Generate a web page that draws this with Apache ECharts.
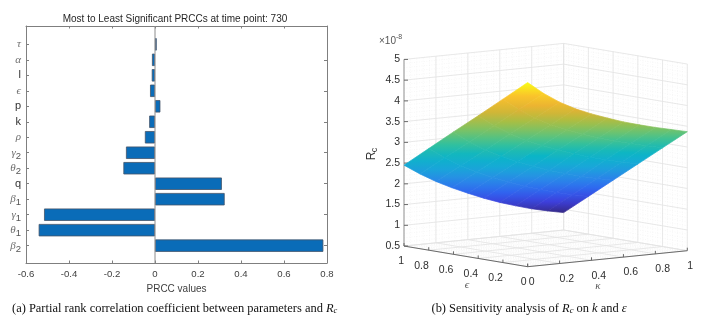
<!DOCTYPE html>
<html>
<head>
<meta charset="utf-8">
<title>PRCC and sensitivity analysis</title>
<script src="https://cdn.jsdelivr.net/npm/echarts@6/dist/echarts.min.js"></script>
<style>
html, body { margin: 0; padding: 0; background: #fff; }
#main { width: 704px; height: 321px; }
</style>
</head>
<body>
<div id="main"></div>
<script>
// left panel, bottom to top
const paramNames = ['β_2', 'θ_1', 'γ_1', 'β_1', 'q', 'θ_2', 'γ_2', 'ρ', 'k', 'p', 'ϵ', 'l', 'α', 'τ'];
const prccValues = [0.783, -0.541, -0.516, 0.324, 0.311, -0.147, -0.135, -0.047, -0.027, 0.025, -0.023, -0.015, -0.014, 0.008];

// right panel, Rc (x 1e-8)
const kappaValues = [0, 0.1, 0.2, 0.3, 0.4, 0.5, 0.6, 0.7, 0.8, 0.9, 1];
const epsilonValues = [0, 0.2, 0.4, 0.6, 0.8, 1];
const rcTable = [
    [4.94, 4.64, 4.39, 4.19, 4.03, 3.89, 3.76, 3.65, 3.55, 3.46, 3.37],
    [4.44, 4.15, 3.91, 3.71, 3.55, 3.40, 3.27, 3.16, 3.06, 2.97, 2.88],
    [3.94, 3.66, 3.43, 3.23, 3.07, 2.92, 2.79, 2.67, 2.57, 2.48, 2.39],
    [3.45, 3.17, 2.94, 2.75, 2.58, 2.43, 2.29, 2.18, 2.07, 1.98, 1.90],
    [2.95, 2.69, 2.46, 2.27, 2.10, 1.95, 1.81, 1.69, 1.58, 1.49, 1.41],
    [2.45, 2.20, 1.98, 1.79, 1.62, 1.46, 1.32, 1.20, 1.09, 1.00, 0.92]
];
const zTicks = [0.5, 1, 1.5, 2, 2.5, 3, 3.5, 4, 4.5, 5];
const floorTicks = [0, 0.2, 0.4, 0.6, 0.8, 1];
const parula = ['#352a87', '#3d3fdc', '#2f66f0', '#2a8ae8', '#18a8d8', '#0ab5c6', '#35c19a', '#74c36a', '#b0bd3e', '#e8b032', '#fcc52a', '#f9fb15'];

// oblique view of the box, expressed in the hidden axes of grid 2
const EPS_H = 371 / 479;
function project(k, e, z) {
    return [k - EPS_H * e, z + 0.386 * k + 0.498 * e];
}

function parulaAt(z) {
    const t = Math.max(0, Math.min(1, (z - 0.92) / (4.94 - 0.92))) * (parula.length - 1);
    const i = Math.min(parula.length - 2, Math.floor(t));
    const f = t - i;
    const a = echarts.color.parse(parula[i]);
    const b = echarts.color.parse(parula[i + 1]);
    return 'rgb(' + [0, 1, 2].map(c => Math.round(a[c] + (b[c] - a[c]) * f)).join(',') + ')';
}

function range(from, to, step) {
    const out = [];
    const n = Math.round((to - from) / step);
    for (let i = 0; i <= n; i++) out.push(from + i * step);
    return out;
}

// box grid lines: [k1, e1, z1, k2, e2, z2, major]
const gridSegments = [];
function addWalls(step, major) {
    range(0, 1, step).forEach(t => {
        gridSegments.push([t, 1, 0.5, t, 1, 5, major]);     // eps = 1 wall
        gridSegments.push([1, t, 0.5, 1, t, 5, major]);     // kappa = 1 wall
        gridSegments.push([t, 0, 0.5, t, 1, 0.5, major]);   // floor
        gridSegments.push([0, t, 0.5, 1, t, 0.5, major]);
    });
    range(0.5, 5, major ? 0.5 : 0.1).forEach(z => {
        gridSegments.push([0, 1, z, 1, 1, z, major]);
        gridSegments.push([1, 1, z, 1, 0, z, major]);
    });
}
addWalls(0.04, 0);
addWalls(0.2, 1);

const quads = [];
for (let e = 0; e < epsilonValues.length - 1; e++) {
    for (let k = 0; k < kappaValues.length - 1; k++) quads.push([k, e]);
}

function renderGrid(params, api) {
    const a = api.coord(project(api.value(0), api.value(1), api.value(2)));
    const b = api.coord(project(api.value(3), api.value(4), api.value(5)));
    const major = api.value(6);
    return {
        type: 'line',
        shape: { x1: a[0], y1: a[1], x2: b[0], y2: b[1] },
        style: { stroke: major ? '#e3e3e3' : '#efefef', lineWidth: major ? 0.8 : 0.5, lineDash: major ? null : [1, 1.5] }
    };
}

function renderQuad(params, api) {
    const k = api.value(0);
    const e = api.value(1);
    const corners = [[k, e], [k + 1, e], [k + 1, e + 1], [k, e + 1]].map(c => {
        const z = rcTable[c[1]][c[0]];
        const p = api.coord(project(kappaValues[c[0]], epsilonValues[c[1]], z));
        return { p: p, z: z };
    });
    const top = corners.reduce((m, c) => c.p[1] < m.p[1] ? c : m);
    const bot = corners.reduce((m, c) => c.p[1] > m.p[1] ? c : m);
    const fill = new echarts.graphic.LinearGradient(0, top.p[1], 0, bot.p[1], [
        { offset: 0, color: parulaAt(top.z) },
        { offset: 0.5, color: parulaAt((top.z + bot.z) / 2) },
        { offset: 1, color: parulaAt(bot.z) }
    ], true);
    return {
        type: 'polygon',
        shape: { points: corners.map(c => c.p) },
        style: { fill: fill, stroke: fill, lineWidth: 0.7 }
    };
}

// dark axis lines, ticks and tick labels of the box
function renderFrame(params, api) {
    const children = [];
    const at = (k, e, z) => api.coord(project(k, e, z));
    const seg = (a, b, color) => children.push({
        type: 'line',
        shape: { x1: a[0], y1: a[1], x2: b[0], y2: b[1] },
        style: { stroke: color || '#6a6a6a', lineWidth: 1 }
    });
    const label = (text, x, y, align) => children.push({
        type: 'text',
        style: { text: text, x: x, y: y, align: align, verticalAlign: 'middle', fill: '#2e2e2e', font: '10.5px "Liberation Sans"' }
    });
    seg(at(0, 1, 0.5), at(0, 1, 5), '#9a9a9a');
    seg(at(0, 1, 0.5), at(0, 0, 0.5));
    seg(at(0, 0, 0.5), at(1, 0, 0.5));
    zTicks.forEach(z => {
        const p = at(0, 1, z);
        seg(p, [p[0] + 4, p[1]]);
        label(String(z), p[0] - 4, p[1], 'right');
    });
    floorTicks.forEach(t => {
        const pe = at(0, t, 0.5);
        seg(pe, [pe[0], pe[1] - 3]);
        label(String(t), pe[0] - (t === 0 ? 1 : 0), pe[1] + 15.5, 'right');
        const pk = at(t, 0, 0.5);
        seg(pk, [pk[0], pk[1] - 3]);
        label(String(t), pk[0] + (t === 0 ? 1 : 0), pk[1] + 15.5, 'left');
    });
    return { type: 'group', children: children };
}

function paramLabel(name) {
    const parts = name.split('_');
    const greek = /[^a-z]/.test(parts[0]);
    const head = (greek ? '{g|' : '{t|') + parts[0] + '}';
    return parts[1] ? head + '{s|' + parts[1] + '}' : head;
}

const chart = echarts.init(document.getElementById('main'), null, { renderer: 'canvas' });
const axisGrey = '#7f7f7f';
const serifRich = {
    i: { fontSize: 12.45, fontStyle: 'italic', fontFamily: '"Liberation Serif"', color: '#111' },
    b: { fontSize: 8.5, fontStyle: 'italic', fontFamily: '"Liberation Serif"', color: '#111', verticalAlign: 'bottom', padding: [4, 0, 0, 0] }
};
const captionStyle = { fontSize: 12.45, fontWeight: 'normal', color: '#111', fontFamily: '"Liberation Serif"', rich: serifRich };

chart.setOption({
    backgroundColor: '#fff',
    animation: false,
    textStyle: { fontFamily: '"Liberation Sans", Arial, sans-serif' },
    title: [
        {
            text: 'Most to Least Significant PRCCs at time point: 730',
            left: 175, top: 14, padding: 0, textAlign: 'center',
            textStyle: { fontSize: 10, fontWeight: 'normal', color: '#262626' }
        },
        { text: '(a) Partial rank correlation coefficient between parameters and {i|R}{b|c}', left: 12, top: 302.5, padding: 0, textStyle: captionStyle },
        { text: '(b) Sensitivity analysis of {i|R}{b|c} on {i|k} and {i|ε}', left: 431.5, top: 302.5, padding: 0, textStyle: captionStyle }
    ],
    grid: [
        { left: 26, width: 301, top: 26, height: 237 },
        { left: 26, width: 301, top: 36.6, height: 216.8 },
        { left: 404, width: 283.3, top: 43.4, height: 223.3 }
    ],
    xAxis: [
        {
            gridIndex: 0, type: 'value', min: -0.6, max: 0.8, interval: 0.2,
            name: 'PRCC values', nameLocation: 'middle', nameGap: 20,
            nameTextStyle: { fontSize: 10, color: '#404040' },
            axisLine: { show: true, onZero: false, lineStyle: { color: axisGrey } },
            axisTick: { show: true, inside: true, length: 2.5, lineStyle: { color: axisGrey } },
            axisLabel: {
                fontSize: 9.6, color: '#404040', margin: 6, showMinLabel: true, showMaxLabel: true,
                formatter: v => String(Math.round(v * 10) / 10)
            },
            splitLine: { show: false }
        },
        {
            gridIndex: 0, type: 'value', position: 'top', min: -0.6, max: 0.8, interval: 0.2,
            axisLine: { show: true, onZero: false, lineStyle: { color: axisGrey } },
            axisTick: { show: true, inside: true, length: 2.5, lineStyle: { color: axisGrey } },
            axisLabel: { show: false }, splitLine: { show: false }
        },
        { gridIndex: 1, type: 'value', min: -0.6, max: 0.8, show: false },
        { gridIndex: 2, type: 'value', min: -EPS_H, max: 1, show: false }
    ],
    yAxis: [
        {
            gridIndex: 0, type: 'value', min: 0, max: 1,
            axisLine: { show: true, onZero: false, lineStyle: { color: axisGrey } },
            axisTick: { show: false }, axisLabel: { show: false }, splitLine: { show: false }
        },
        {
            gridIndex: 0, type: 'value', position: 'right', min: 0, max: 1,
            axisLine: { show: true, onZero: false, lineStyle: { color: axisGrey } },
            axisTick: { show: false }, axisLabel: { show: false }, splitLine: { show: false }
        },
        {
            gridIndex: 1, type: 'category', data: paramNames,
            axisLine: { show: false, onZero: false },
            axisTick: { show: true, inside: true, length: 3, alignWithLabel: true, lineStyle: { color: axisGrey } },
            axisLabel: {
                interval: 0, margin: 5, formatter: paramLabel,
                rich: {
                    g: { fontSize: 11, fontStyle: 'italic', fontFamily: '"Liberation Serif"', color: '#6e6e6e' },
                    t: { fontSize: 11, fontFamily: '"Liberation Sans"', color: '#333' },
                    s: { fontSize: 9.5, fontFamily: '"Liberation Sans"', color: '#555', verticalAlign: 'bottom', padding: [7, 0, 0, 0] }
                }
            }
        },
        {
            gridIndex: 1, type: 'category', position: 'right', data: paramNames,
            axisLine: { show: false, onZero: false },
            axisTick: { show: true, inside: true, length: 3, alignWithLabel: true, lineStyle: { color: axisGrey } },
            axisLabel: { show: false }
        },
        { gridIndex: 2, type: 'value', min: 0.5, max: 5.884, show: false }
    ],
    graphic: [
        {
            type: 'text', left: 379, top: 36,
            style: { text: '×10', fill: '#555', font: '10px "Liberation Sans"' }
        },
        {
            type: 'text', left: 396, top: 34,
            style: { text: '-8', fill: '#555', font: '7px "Liberation Sans"' }
        },
        {
            type: 'text', x: 372, y: 156, rotation: Math.PI / 2,
            style: { text: 'R', fill: '#333', font: '12px "Liberation Sans"', align: 'center', verticalAlign: 'middle' }
        },
        {
            type: 'text', x: 375, y: 150, rotation: Math.PI / 2,
            style: { text: 'c', fill: '#333', font: '9px "Liberation Sans"', align: 'center', verticalAlign: 'middle' }
        },
        {
            type: 'text', x: 467, y: 285,
            style: { text: 'ϵ', fill: '#555', font: 'italic 11px "Liberation Serif"', align: 'center', verticalAlign: 'middle' }
        },
        {
            type: 'text', x: 598, y: 286,
            style: { text: 'κ', fill: '#555', font: 'italic 11px "Liberation Serif"', align: 'center', verticalAlign: 'middle' }
        }
    ],
    series: [
        {
            name: 'zero', type: 'line', xAxisIndex: 0, yAxisIndex: 0, silent: true, symbol: 'none',
            data: [[0, 0], [0, 1]],
            lineStyle: { color: '#8c8c8c', width: 1 }
        },
        {
            name: 'PRCC', type: 'bar', xAxisIndex: 2, yAxisIndex: 2, data: prccValues,
            barWidth: '80%',
            itemStyle: { color: '#0a6cb8', borderColor: '#44546a', borderWidth: 0.8 }
        },
        {
            type: 'custom', xAxisIndex: 3, yAxisIndex: 4, clip: false, silent: true, z: 1,
            data: gridSegments, renderItem: renderGrid
        },
        {
            type: 'custom', xAxisIndex: 3, yAxisIndex: 4, clip: false, silent: true, z: 2,
            data: [[0]], renderItem: renderFrame
        },
        {
            type: 'custom', xAxisIndex: 3, yAxisIndex: 4, clip: false, silent: true, z: 3,
            data: quads, renderItem: renderQuad
        }
    ]
});
</script>
</body>
</html>
